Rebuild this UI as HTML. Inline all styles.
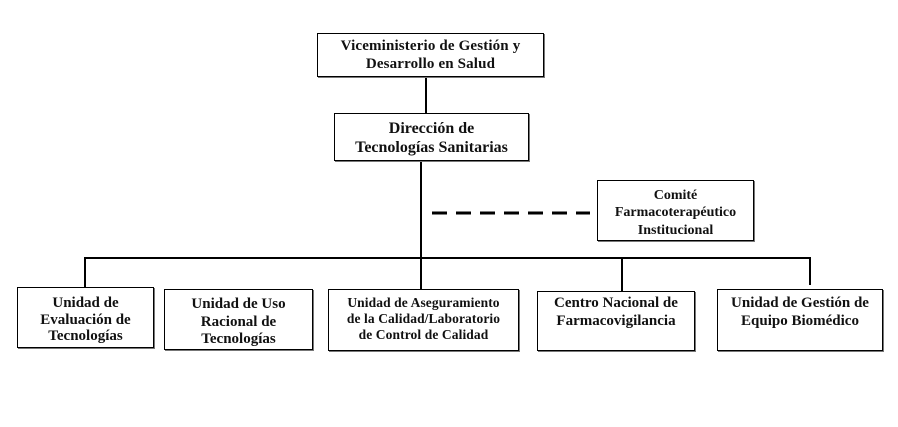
<!DOCTYPE html>
<html>
<head>
<meta charset="utf-8">
<style>
  html, body { margin:0; padding:0; background:#fff; }
  body { width:898px; height:427px; position:relative; overflow:hidden;
         font-family:"Liberation Serif", serif; font-weight:bold; color:#111; }
  .b { position:absolute; box-sizing:border-box; border:1px solid #000;
       box-shadow:1px 1px 0 #777; background:#fff; text-align:center; }
  .c { display:flex; flex-direction:column; justify-content:center; }
  .t { display:flex; flex-direction:column; justify-content:flex-start; }
  svg { position:absolute; left:0; top:0; }
</style>
</head>
<body>
<svg width="898" height="427" viewBox="0 0 898 427">
  <g stroke="#000" stroke-width="2" fill="none">
    <line x1="426" y1="77" x2="426" y2="113"/>
    <line x1="421" y1="161" x2="421" y2="289"/>
    <line x1="84" y1="258" x2="811" y2="258"/>
    <line x1="85" y1="257" x2="85" y2="287"/>
    <line x1="622" y1="257" x2="622" y2="291"/>
    <line x1="810" y1="257" x2="810" y2="285"/>
  </g>
  <line x1="432" y1="213" x2="590" y2="213" stroke="#000" stroke-width="3" stroke-dasharray="15 9"/>
</svg>

<div class="b c" style="left:317px;top:33px;width:227px;height:44px;font-size:15px;line-height:18.5px;letter-spacing:0.15px;">
  <div>Viceministerio de Gestión y</div><div>Desarrollo en Salud</div>
</div>

<div class="b c" style="left:334px;top:113px;width:195px;height:48px;font-size:16px;line-height:19.5px;padding-top:2px;">
  <div>Dirección de</div><div>Tecnologías Sanitarias</div>
</div>

<div class="b c" style="left:597px;top:180px;width:157px;height:61px;font-size:14px;line-height:17.5px;padding-top:5px;">
  <div>Comité</div><div>Farmacoterapéutico</div><div>Institucional</div>
</div>

<div class="b t" style="left:17px;top:287px;width:137px;height:61px;font-size:15px;line-height:16.7px;padding-top:7px;">
  <div>Unidad de</div><div>Evaluación de</div><div>Tecnologías</div>
</div>

<div class="b t" style="left:164px;top:289px;width:149px;height:61px;font-size:15px;line-height:17.5px;padding-top:6px;">
  <div>Unidad de Uso</div><div>Racional de</div><div>Tecnologías</div>
</div>

<div class="b t" style="left:328px;top:289px;width:191px;height:62px;font-size:13.5px;line-height:15.8px;padding-top:5px;letter-spacing:0.1px;">
  <div>Unidad de Aseguramiento</div><div>de la Calidad/Laboratorio</div><div>de Control de Calidad</div>
</div>

<div class="b t" style="left:537px;top:291px;width:158px;height:60px;font-size:15px;line-height:17.5px;padding-top:3px;">
  <div>Centro Nacional de</div><div>Farmacovigilancia</div>
</div>

<div class="b t" style="left:717px;top:289px;width:166px;height:62px;font-size:15px;line-height:18px;padding-top:4px;">
  <div>Unidad de Gestión de</div><div>Equipo Biomédico</div>
</div>
</body>
</html>
